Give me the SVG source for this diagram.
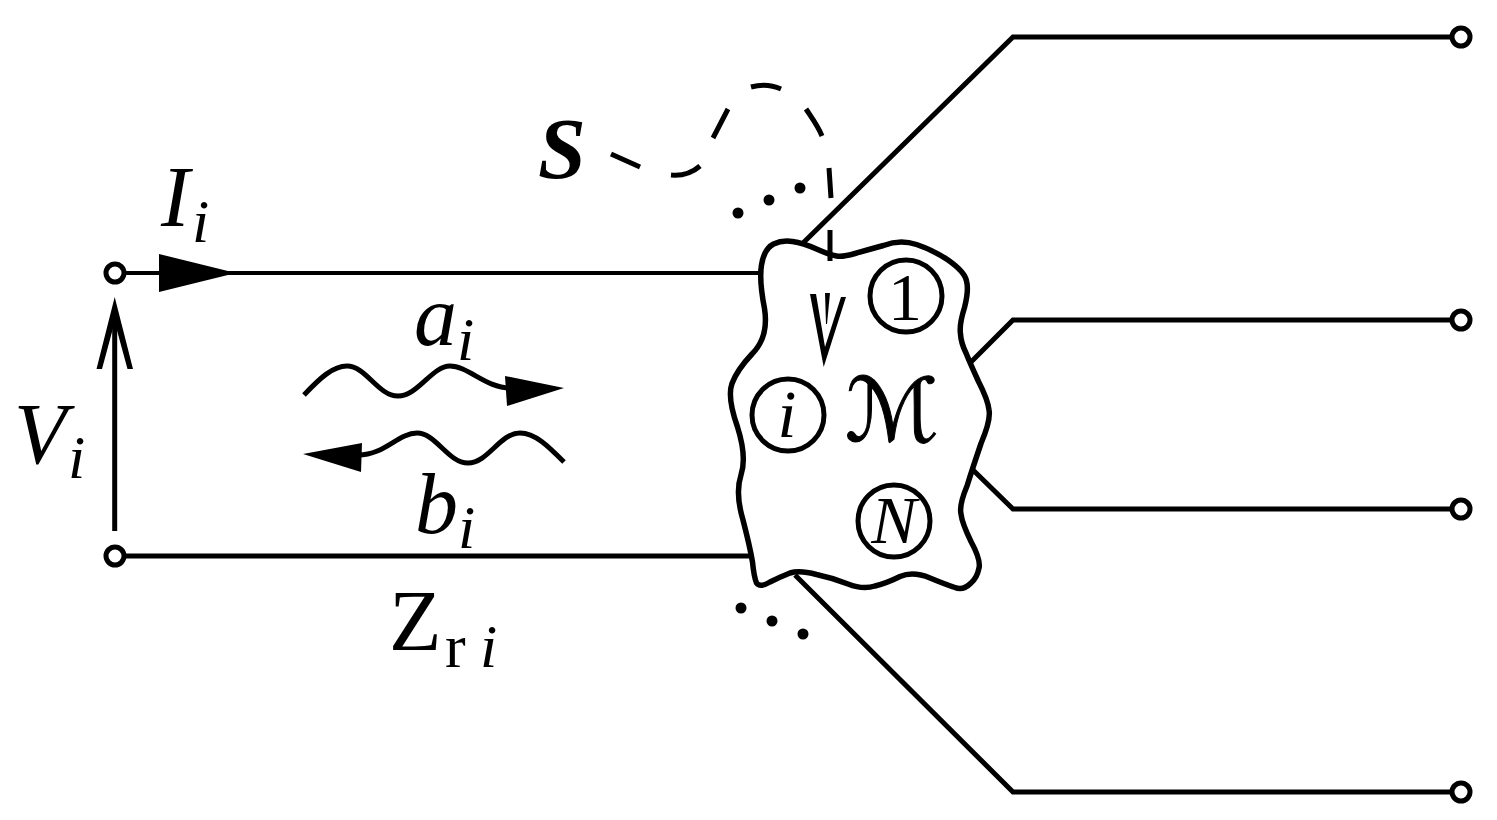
<svg xmlns="http://www.w3.org/2000/svg" width="1497" height="820" viewBox="0 0 1497 820">
<style>
.w{fill:none;stroke:#000;stroke-width:5;stroke-linejoin:miter}
.t{fill:#fff;stroke:#000;stroke-width:5}
.f{fill:#000;stroke:none}
.m{font-family:"Liberation Serif",serif;font-style:italic;font-size:86px;fill:#000}
.s{font-family:"Liberation Serif",serif;font-style:italic;font-size:62px;fill:#000}
.c{font-family:"Liberation Serif",serif;font-size:68px;fill:#000;text-anchor:middle}
</style>
<rect width="1497" height="820" fill="#fff"/>
<g id="connectors">
<path class="w" style="stroke-width:4" d="M124 273H762"/>
<path class="w" d="M124 556H752"/>
<path class="w" d="M803 243L1013 37H1452"/>
<path class="w" d="M970 363L1013 320H1452"/>
<path class="w" d="M973 470L1013 509H1452"/>
<path class="w" d="M795 575L1013 792H1452"/>
<path class="f" d="M159 254L236 273L159 292Z"/>
<path class="w" d="M114.700 531V320"/>
<path class="f" d="M114.700 297L133 369H127.500L114.700 322L102 369H96.500Z"/>
<path class="w" d="M304 395C320 378 333 366 347 366C366 366 378 396 398 396C418 396 432 366 450 366C468 366 486 388 510 388"/>
<path class="f" d="M505 376L564 388L507 406Z"/>
<path class="w" d="M564 462C548 446 535 433 520 433C500 433 488 463 468 463C448 463 436 433 417 433C398 433 385 455 358 455"/>
<path class="f" d="M303 454L362 443L361 472Z"/>
</g>
<g id="terminals">
<circle class="t" cx="115" cy="273" r="9"/>
<circle class="t" cx="115" cy="556" r="9"/>
<circle class="t" cx="1461" cy="37" r="9"/>
<circle class="t" cx="1461" cy="320" r="9"/>
<circle class="t" cx="1461" cy="509" r="9"/>
<circle class="t" cx="1461" cy="792" r="9"/>
</g>
<g id="network">
<path class="w" style="fill:#fff;stroke-width:5.500" d="M792.500 241.500Q803 243 816.500 249Q830 255 836.500 256Q843 257 855 253.500Q867 250 883.500 245.500Q900 239 916.500 244.500Q933 250 948 260Q965 272 966.500 281Q969 290 964.500 307.500Q959 325 960.500 334Q961 343 966 353Q970 363 978.500 381.500Q988 400 989 410Q991 420 981 443.500Q973 467 967 486Q959 505 961 514Q962 523 971 541.500Q981 560 979 568Q977 578 971 583Q963 591 955 587.500Q947 585 930 578Q913 571 900 576.500Q887 583 875 586Q863 590 848 584Q833 578 816.500 574.500Q800 570 790 573Q780 577 770 582Q760 588 756.500 583Q754 577 752.500 562Q750 547 743 520Q735 493 741 475Q747 457 737.500 427Q727 397 732 383.500Q737 370 752 354Q769 337 764.500 308.500Q759 280 761.500 265Q764 249 773.500 244Q782 240 792.500 241.500Z"/>
<circle class="w" cx="906" cy="296" r="36"/>
<circle class="w" cx="788" cy="415" r="36"/>
<circle class="w" cx="894" cy="521" r="36"/>
<text class="c" x="905" y="320">1</text>
<text class="c" x="787" y="437" font-style="italic">i</text>
<text class="c" x="894" y="543" font-style="italic">N</text>
<text x="892" y="441" text-anchor="middle" style="font-family:'DejaVu Serif','DejaVu Sans',serif;font-size:88px;fill:#000;stroke:#000;stroke-width:1">ℳ</text>
</g>
<g id="surface">
<path class="w" d="M611 154L640 167M671 175C684 176 692 173 700 166M713 138L728 109M751 87C762 84 772 85 781 89M806 109C812 118 818 126 822 136M829 168L831 198M830 230V261"/>
<path class="f" d="M810 294H816L825 347L841 297H846L823.700 367Z"/>
<path class="f" d="M825 293H830L827 324H826Z"/>
</g>
<g id="dots">
<circle class="f" cx="738" cy="213" r="5.500"/>
<circle class="f" cx="769" cy="200" r="5.500"/>
<circle class="f" cx="800" cy="188" r="5.500"/>
<circle class="f" cx="741" cy="608" r="5.500"/>
<circle class="f" cx="772" cy="621" r="5.500"/>
<circle class="f" cx="803" cy="634" r="5.500"/>
</g>
<g id="labels">
<text x="538" y="178" style="font-family:'Liberation Serif',serif;font-weight:bold;font-style:italic;font-size:86px;fill:#000">S</text>
<text class="m" x="161" y="226">I</text><text class="s" x="192" y="242">i</text>
<text class="m" x="14" y="463">V</text><text class="s" x="68" y="478">i</text>
<text class="m" x="414" y="345">a</text><text class="s" x="457" y="360">i</text>
<text class="m" x="415" y="533">b</text><text class="s" x="458" y="548">i</text>
<text x="389" y="650" style="font-family:'Liberation Serif',serif;font-size:86px;fill:#000">Z</text>
<text x="445" y="667" style="font-family:'Liberation Serif',serif;font-size:62px;fill:#000">r</text>
<text class="s" x="480" y="667">i</text>
</g>
</svg>
